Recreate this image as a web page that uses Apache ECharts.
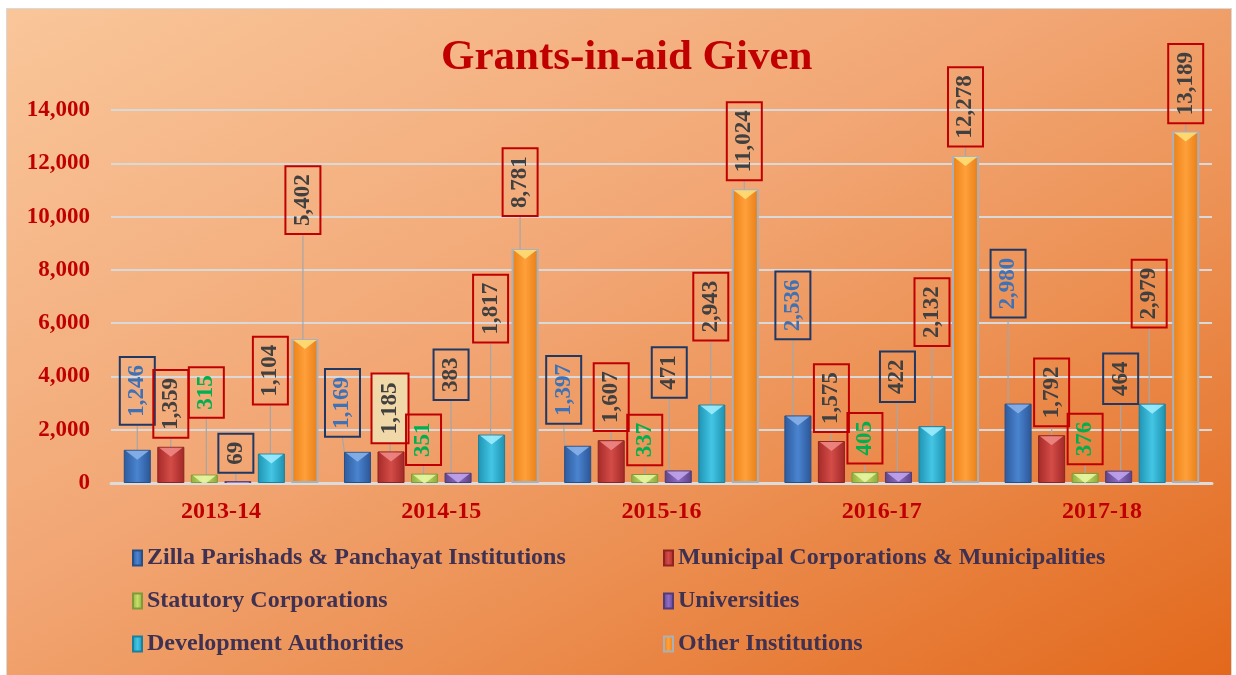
<!DOCTYPE html>
<html>
<head>
<meta charset="utf-8">
<script src="https://cdn.jsdelivr.net/npm/echarts@6/dist/echarts.min.js"></script>
<style>
  html, body { margin: 0; padding: 0; background: #ffffff; }
  #bg { position: absolute; left: 6px; top: 8px; width: 1226px; height: 680px;
        border: 1px solid #D9D9D9; box-sizing: border-box;
        background: linear-gradient(to bottom right, #F9C69A 0%, #F2A775 42%, #EC9053 65%, #E2671A 100%); }
  #chart { position: absolute; left: 0; top: 0; width: 1236px; height: 675px; }
</style>
</head>
<body>
<div id="bg"></div>
<div id="chart"></div>
<script>
// ---- data ----
const categories = ['2013-14', '2014-15', '2015-16', '2016-17', '2017-18'];
const seriesNames = [
  'Zilla Parishads & Panchayat Institutions',
  'Municipal Corporations & Municipalities',
  'Statutory Corporations',
  'Universities',
  'Development Authorities',
  'Other Institutions'
];
const zillaParishads = [1246, 1169, 1397, 2536, 2980];
const municipal = [1359, 1185, 1607, 1575, 1792];
const statutory = [315, 351, 337, 405, 376];
const universities = [69, 383, 471, 422, 464];
const development = [1104, 1817, 2943, 2132, 2979];
const otherInstitutions = [5402, 8781, 11024, 12278, 13189];
const yTicks = [0, 2000, 4000, 6000, 8000, 10000, 12000, 14000];

// ---- label layout (screen pixel offsets of callout boxes from bar tops) ----
const labelDy = [
  [-59, -49, -56, -110, -120],
  [-43, -43, -43, -43, -43],
  [-82, -34, -34, -34, -34],
  [-28, -98, -98, -95, -92],
  [-83, -126, -98, -114, -110],
  [-139, -67, -48, -49, -48]
];
const labelDx = [
  [0, -15, -14, -5, -10],
  [0, -1, 0, 0, 0],
  [2, -1, 0, 0, 0],
  [-2, -7, -9, -1, 2],
  [-1, -1, -1, 0, -3],
  [-2, -5, -1, 0, 0]
];

// ---- styles ----
const G = echarts.graphic.LinearGradient;
const barColors = [
  new G(0, 0, 1, 0, [{offset: 0, color: '#2D5A9C'}, {offset: 0.5, color: '#4A84D0'}, {offset: 1, color: '#2B5597'}]),
  new G(0, 0, 1, 0, [{offset: 0, color: '#A52A28'}, {offset: 0.5, color: '#D44C48'}, {offset: 1, color: '#A02826'}]),
  new G(0, 0, 1, 0, [{offset: 0, color: '#8FAE3E'}, {offset: 0.5, color: '#C6DE6A'}, {offset: 1, color: '#8CAA3C'}]),
  new G(0, 0, 1, 0, [{offset: 0, color: '#5E4487'}, {offset: 0.5, color: '#8F6DC6'}, {offset: 1, color: '#5C4284'}]),
  new G(0, 0, 1, 0, [{offset: 0, color: '#1F93B3'}, {offset: 0.5, color: '#43C6E4'}, {offset: 1, color: '#1E90AF'}]),
  new G(0, 0, 1, 0, [{offset: 0, color: '#EA7F15'}, {offset: 0.5, color: '#FFA03A'}, {offset: 1, color: '#E77C14'}])
];
const bevelColors = ['#8DB4EA', '#F08C88', '#E9F7A6', '#C2A8EE', '#A2EEFF', '#FFE27A'];
const barBorders = ['#2A4F85', '#8E2422', '#7F9B38', '#523B77', '#1C7F9C', '#A9B0BA'];
const labelText = ['#3D72B8', '#404040', '#00B050', '#404040', '#404040', '#404040'];
const labelBorder = ['#1F3864', '#C00000', '#C00000', '#1F3864', '#C00000', '#C00000'];
const dataSets = [zillaParishads, municipal, statutory, universities, development, otherInstitutions];
const FONT = '"Liberation Serif", "Times New Roman", serif';

const barSeries = dataSets.map(function (vals, si) {
  return {
    name: seriesNames[si],
    type: 'bar',
    barGap: '24%',
    barCategoryGap: '11.6%',
    itemStyle: { color: barColors[si], borderColor: barBorders[si], borderWidth: si === 5 ? 2 : 1 },
    data: vals.map(function (v, ci) {
      const item = { value: v };
      if (si === 1 && ci === 1) item.label = { backgroundColor: '#F1D8A8' };
      return item;
    }),
    label: {
      show: true,
      position: 'top',
      distance: 0,
      rotate: 90,
      align: 'center',
      verticalAlign: 'middle',
      formatter: function (p) { return p.value.toLocaleString('en-US'); },
      fontFamily: FONT,
      fontWeight: 'bold',
      fontSize: 23,
      lineHeight: 24,
      color: labelText[si],
      borderColor: labelBorder[si],
      borderWidth: 2,
      padding: [6, 8, 5, 8]
    },
    labelLine: { show: true, lineStyle: { color: '#A6A6A6', width: 1.2 } },
    labelLayout: function (params) {
      // offsets are applied in the label's rotated frame (90deg): swap axes
      return { dx: -labelDy[si][params.dataIndex], dy: labelDx[si][params.dataIndex] };
    }
  };
});

// bevelled top facets of the bars (decorative, same data)
const bevelSeries = dataSets.map(function (vals, si) {
  return {
    name: seriesNames[si] + ' bevel',
    type: 'pictorialBar',
    barGap: '24%',
    barCategoryGap: '11.6%',
    symbol: 'path://M0,0 L20,0 L10,8 Z',
    symbolSize: ['86%', 9],
    symbolPosition: 'end',
    symbolOffset: [0, 1],
    symbolClip: true,
    itemStyle: { color: bevelColors[si], opacity: 0.85 },
    z: 3,
    silent: true,
    tooltip: { show: false },
    data: vals
  };
});

const legendText = { fontFamily: FONT, fontWeight: 'bold', fontSize: 24, color: '#3F3151' };

const chart = echarts.init(document.getElementById('chart'), null, { renderer: 'canvas' });
chart.setOption({
  backgroundColor: 'transparent',
  animation: false,
  title: {
    text: 'Grants-in-aid Given',
    left: 436,
    top: 31,
    textStyle: { fontFamily: FONT, fontWeight: 'bold', fontSize: 43, color: '#C00000' }
  },
  legend: [
    {
      orient: 'vertical', left: 127, top: 541, itemGap: 19,
      itemWidth: 9, itemHeight: 15, icon: 'rect',
      data: [seriesNames[0], seriesNames[2], seriesNames[4]],
      textStyle: legendText
    },
    {
      orient: 'vertical', left: 658, top: 541, itemGap: 19,
      itemWidth: 9, itemHeight: 15, icon: 'rect',
      data: [seriesNames[1], seriesNames[3], seriesNames[5]],
      textStyle: legendText
    }
  ],
  grid: { left: 111, right: 24, top: 110, bottom: 192, containLabel: false },
  xAxis: {
    type: 'category',
    data: categories,
    axisTick: { show: false },
    axisLine: { show: true, lineStyle: { color: '#DCDCDC', width: 3 } },
    axisLabel: { fontFamily: FONT, fontWeight: 'bold', fontSize: 24, color: '#C00000', margin: 17 }
  },
  yAxis: {
    type: 'value',
    min: yTicks[0],
    max: yTicks[yTicks.length - 1],
    interval: yTicks[1] - yTicks[0],
    axisLine: { show: false },
    axisTick: { show: false },
    splitLine: { lineStyle: { color: '#D9D9D9', width: 2 } },
    axisLabel: {
      fontFamily: FONT, fontWeight: 'bold', fontSize: 23, color: '#C00000', margin: 21,
      formatter: function (v) { return v.toLocaleString('en-US'); }
    }
  },
  series: barSeries.concat(bevelSeries)
});
</script>
</body>
</html>
